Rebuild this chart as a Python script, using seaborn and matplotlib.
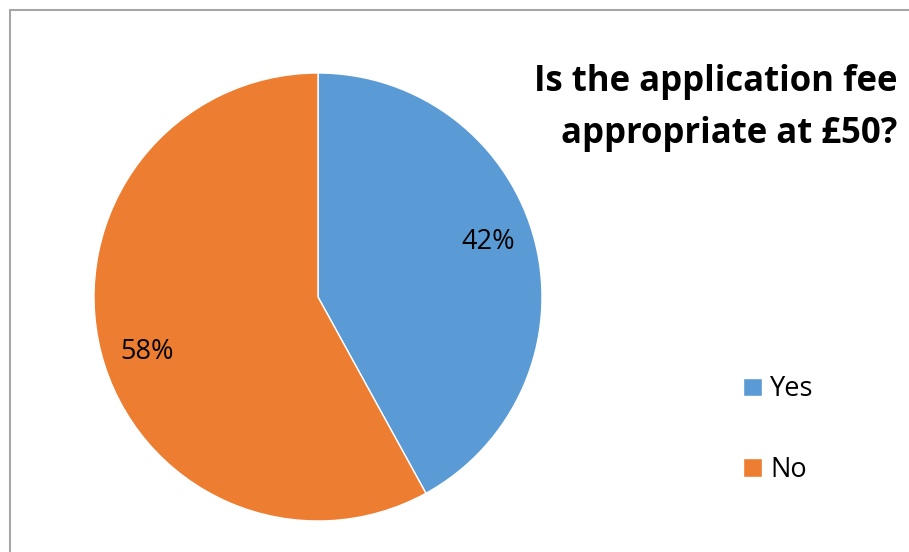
import matplotlib
matplotlib.use("Agg")
import matplotlib.pyplot as plt
import numpy as np
import seaborn as sns
from matplotlib.patches import Rectangle

# data
categories = ["Yes", "No"]
shares = [42, 58]
colors = ["#5B9BD5", "#ED7D31"]
title = "Is the application fee\nappropriate at £50?"

sns.set_theme(style="white")
plt.rcParams["font.family"] = ["Open Sans", "DejaVu Sans"]
plt.rcParams["text.color"] = "black"

W, H = 909, 552
fig = plt.figure(figsize=(W / 100, H / 100), dpi=100)
fig.patch.set_facecolor("white")

# pie area: centre (318, 297), radius 224 px
cx, cy, r = 318, 297, 224
ax = fig.add_axes([(cx - r) / W, (H - cy - r) / H, 2 * r / W, 2 * r / H])
wedges, _, autotexts = ax.pie(
    shares,
    colors=colors,
    startangle=90,
    counterclock=False,
    autopct="%d%%",
    pctdistance=0.80,
    wedgeprops={"edgecolor": "white", "linewidth": 1},
    textprops={"fontsize": 19.5, "color": "black"},
)
# Excel nudges the labels a little anticlockwise of the wedge middle
rot = np.deg2rad(3.5)
for t in autotexts:
    x, y = t.get_position()
    t.set_position((x * np.cos(rot) - y * np.sin(rot),
                    x * np.sin(rot) + y * np.cos(rot)))
ax.set_xlim(-1, 1)
ax.set_ylim(-1, 1)
ax.set_aspect("equal")
ax.axis("off")

fig.text(897 / W, 1 - 64 / H, title, ha="right", va="top",
         fontsize=25, fontweight="bold", linespacing=1.6)

fig.legend(
    wedges, categories,
    loc="upper left", bbox_to_anchor=(719 / W, 1 - 351 / H),
    frameon=False, fontsize=19.5, handlelength=0.67, handleheight=0.67,
    handletextpad=0.33, labelspacing=1.95,
)

# chart frame
fig.add_artist(Rectangle((9.5 / W, -0.1), 1.2, 1 - 9.5 / H + 0.1,
                         transform=fig.transFigure, fill=False,
                         edgecolor="#A6A6A6", linewidth=1.5))

fig.savefig("out.png", dpi=100)
